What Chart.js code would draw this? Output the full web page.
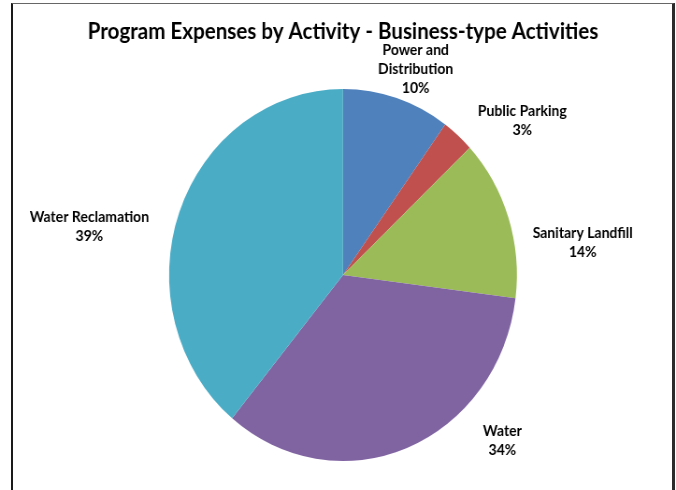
<!DOCTYPE html>
<html>
<head>
<meta charset="utf-8">
<title>Program Expenses by Activity</title>
<script src="https://cdn.jsdelivr.net/npm/chart.js@4.4.1/dist/chart.umd.min.js"></script>
<style>
  html, body { margin:0; padding:0; background:#fff; overflow:hidden; }
  /* chart frame, runs off the bottom of the page */
  #frame { position:absolute; left:11px; top:3px; width:664px; height:560px; box-sizing:border-box;
           border-left:2px solid #1a1a1a; border-top:1px solid #666; border-right:3px solid #2b2b2b; }
  /* the pie is a little squashed horizontally, so the whole canvas is scaled */
  #wrap { position:absolute; left:0; top:0; width:723px; height:490px; transform:scaleX(0.935); transform-origin:0 0; }
</style>
</head>
<body>
<div id="frame"></div>
<div id="wrap"><canvas id="pie" width="723" height="490"></canvas></div>
<script>
// --------- Data ----------
const categories = [["Power and", "Distribution"], "Public Parking", "Sanitary Landfill", "Water", "Water Reclamation"];
const shares = [10, 3, 14, 34, 39];   // percent of program expenses

// --------- Styles ----------
const sliceColors = ["#4F81BD", "#C0504D", "#9BBB59", "#8064A2", "#4BACC6"];
const LABEL_GAP = 30;
const LINE_H = 19;
// label tweaks (px) from the radial anchor, like the hand-placed labels of the original sheet
const labelNudge = [[11, 0], [49, 8], [51, 34], [91, -35], [-68, 25]];

Chart.defaults.font.family = "Lato, 'Open Sans', sans-serif";
Chart.defaults.color = "#000";

// outside-end labels: category name + percentage
const pieLabels = {
  id: "pieLabels",
  afterDatasetsDraw(chart){
    const ctx = chart.ctx;
    const arcs = chart.getDatasetMeta(0).data;
    ctx.save();
    ctx.font = "bold 15px Lato, 'Open Sans', sans-serif";
    ctx.fillStyle = "#000";
    ctx.textAlign = "center";
    ctx.textBaseline = "middle";
    arcs.forEach((arc, i)=>{
      const p = arc.getProps(["x", "y", "startAngle", "endAngle", "outerRadius"], true);
      const mid = (p.startAngle + p.endAngle) / 2;
      const d = p.outerRadius + LABEL_GAP;
      const cx = p.x + Math.cos(mid) * d + labelNudge[i][0];
      const cy = p.y + Math.sin(mid) * d + labelNudge[i][1];
      const lines = [].concat(categories[i], shares[i] + "%");
      const top = cy - (lines.length - 1) * LINE_H / 2;
      lines.forEach((t, j)=> ctx.fillText(t, cx, top + j * LINE_H));
    });
    ctx.restore();
  }
};

new Chart(document.getElementById("pie"), {
  type: "pie",
  data: {
    labels: categories,
    datasets: [{ data: shares, backgroundColor: sliceColors, borderWidth: 0, hoverOffset: 0 }]
  },
  options: {
    responsive: false,
    animation: false,
    devicePixelRatio: 1,
    // wide plot box (so the title is not squeezed), centred on the pie
    layout: { padding: { left: 20, right: 9.4, top: 0, bottom: 29 } },
    plugins: {
      legend: { display: false },
      tooltip: { enabled: false },
      title: {
        display: true,
        text: "Program Expenses by Activity - Business-type Activities",
        color: "#000",
        font: { size: 22, weight: "bold" },
        padding: { top: 18.8, bottom: 43.8 }
      }
    }
  },
  plugins: [pieLabels]
});
</script>
</body>
</html>
